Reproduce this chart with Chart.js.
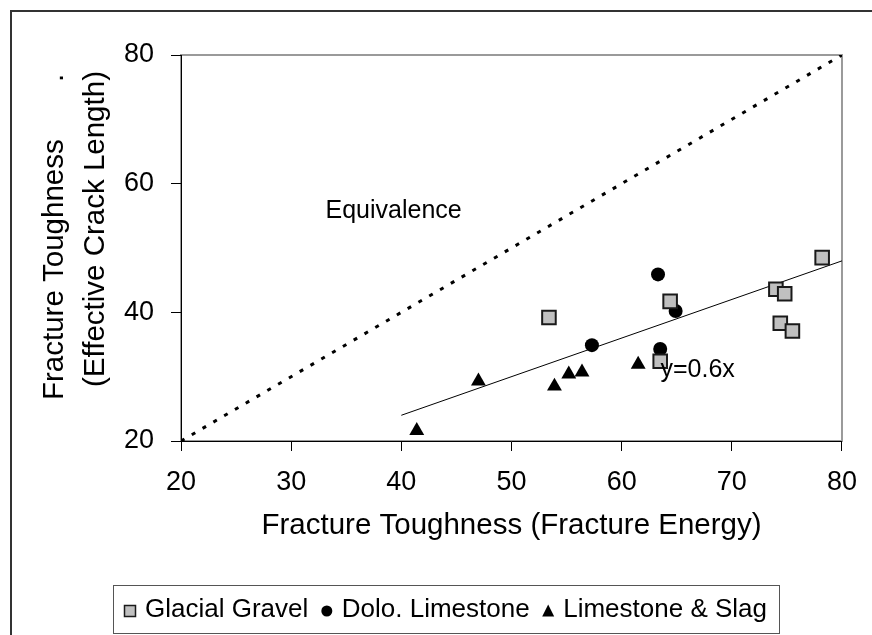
<!DOCTYPE html>
<html>
<head>
<meta charset="utf-8">
<title>Fracture Toughness</title>
<script src="https://cdn.jsdelivr.net/npm/chart.js@4"></script>
<style>
  html, body { margin: 0; padding: 0; background: #fff; }
  #wrap { width: 872px; height: 635px; }
</style>
</head>
<body>
<div id="wrap"><canvas id="chart" width="872" height="635"></canvas></div>
<script>
// measured points, x = fracture energy toughness, y = effective crack length toughness
const gravelX = [53.4, 64.4, 63.5, 74.0, 74.8, 74.4, 75.5, 78.2];
const gravelY = [39.2, 41.7, 32.4, 43.6, 42.9, 38.3, 37.1, 48.5];
const doloX = [63.3, 64.9, 57.3, 63.5];
const doloY = [45.9, 40.2, 34.9, 34.3];
const slagX = [41.4, 47.0, 53.9, 55.2, 56.4, 61.5];
const slagY = [21.6, 29.3, 28.5, 30.4, 30.7, 31.9];

// reference lines
const equivX = [20, 80];
const equivY = [20, 80];
const trendX = [40, 80];
const trendY = [24, 48];   // y = 0.6x

const xTicks = [20, 30, 40, 50, 60, 70, 80];
const yTicks = [20, 40, 60, 80];

const seriesNames = ["Glacial Gravel", "Dolo. Limestone", "Limestone & Slag"];

const FONT = "'Liberation Sans', Arial, sans-serif";

function pts(xs, ys) {
  return xs.map(function (x, i) { return { x: x, y: ys[i] }; });
}

// legend marker shapes, drawn by hand so they sit inside the boxed legend
function drawMarker(ctx, kind, x, y) {
  ctx.save();
  if (kind === "rect") {
    ctx.fillStyle = "#c0c0c0";
    ctx.strokeStyle = "#1a1a1a";
    ctx.lineWidth = 1.5;
    ctx.fillRect(x - 5.5, y - 5.5, 11, 11);
    ctx.strokeRect(x - 5.5, y - 5.5, 11, 11);
  } else if (kind === "circle") {
    ctx.fillStyle = "#000";
    ctx.beginPath();
    ctx.arc(x, y, 5.5, 0, Math.PI * 2);
    ctx.fill();
  } else {
    ctx.fillStyle = "#000";
    ctx.beginPath();
    ctx.moveTo(x, y - 6.5);
    ctx.lineTo(x + 6, y + 5.5);
    ctx.lineTo(x - 6, y + 5.5);
    ctx.closePath();
    ctx.fill();
  }
  ctx.restore();
}

const decorations = {
  id: "decorations",
  beforeDraw(chart) {
    const ctx = chart.ctx;
    const a = chart.chartArea;
    ctx.save();
    ctx.fillStyle = "#fff";
    ctx.fillRect(0, 0, chart.width, chart.height);
    // outer frame (runs off the right and bottom edges)
    ctx.strokeStyle = "#333";
    ctx.lineWidth = 2;
    ctx.strokeRect(11, 11, chart.width + 10, chart.height + 10);
    // plot area frame; left and bottom get covered by the axes
    ctx.strokeStyle = "#9a9a9a";
    ctx.lineWidth = 2;
    ctx.strokeRect(a.left, a.top, a.right - a.left, a.bottom - a.top);
    ctx.restore();
  },
  afterDraw(chart) {
    const ctx = chart.ctx;
    const a = chart.chartArea;
    const sx = chart.scales.x;
    const sy = chart.scales.y;
    ctx.save();
    ctx.fillStyle = "#000";

    // x axis title
    ctx.font = "29.5px " + FONT;
    ctx.textAlign = "center";
    ctx.textBaseline = "middle";
    ctx.fillText("Fracture Toughness (Fracture Energy)", (a.left + a.right) / 2, 526);

    // y axis title, two lines
    ctx.save();
    ctx.translate(63, 400);
    ctx.rotate(-Math.PI / 2);
    ctx.textAlign = "left";
    ctx.textBaseline = "alphabetic";
    ctx.font = "29.5px " + FONT;
    ctx.fillText("Fracture Toughness       .", 0, 0);
    ctx.restore();
    ctx.save();
    ctx.translate(104, 229);
    ctx.rotate(-Math.PI / 2);
    ctx.textAlign = "center";
    ctx.textBaseline = "alphabetic";
    ctx.font = "29.5px " + FONT;
    ctx.fillText("(Effective Crack Length)", 0, 0);
    ctx.restore();

    // in-plot labels
    ctx.font = "25px " + FONT;
    ctx.textAlign = "center";
    ctx.textBaseline = "middle";
    ctx.fillText("Equivalence", sx.getPixelForValue(39.3), sy.getPixelForValue(55.8));
    ctx.fillText("y=0.6x", sx.getPixelForValue(66.9), sy.getPixelForValue(31.0));

    // boxed legend, items spread between a fixed first marker and right margin
    const boxL = 113, boxT = 585, boxR = 779, boxB = 633;
    ctx.strokeStyle = "#555";
    ctx.lineWidth = 1;
    ctx.strokeRect(boxL + 0.5, boxT + 0.5, boxR - boxL, boxB - boxT);
    ctx.font = "26px " + FONT;
    ctx.textAlign = "left";
    const kinds = ["rect", "circle", "triangle"];
    const firstMarker = boxL + 17, textOffset = 15, rightMargin = 12;
    let textSum = 0;
    seriesNames.forEach(function (n) { textSum += ctx.measureText(n).width; });
    const span = (boxR - rightMargin) - firstMarker - textOffset * seriesNames.length - textSum;
    const itemGap = span / (seriesNames.length - 1);
    let m = firstMarker;
    const cy = (boxT + boxB) / 2 + 1;
    seriesNames.forEach(function (n, i) {
      drawMarker(ctx, kinds[i], m, cy + 1);
      ctx.fillText(n, m + textOffset, cy);
      m += textOffset + ctx.measureText(n).width + itemGap;
    });
    ctx.restore();
  }
};

const ctx = document.getElementById("chart").getContext("2d");
new Chart(ctx, {
  type: "scatter",
  data: {
    datasets: [
      {
        label: seriesNames[0],
        data: pts(gravelX, gravelY),
        pointStyle: "rect",
        pointRadius: 9.6,
        backgroundColor: "#c0c0c0",
        borderColor: "#1a1a1a",
        borderWidth: 2
      },
      {
        label: seriesNames[1],
        data: pts(doloX, doloY),
        pointStyle: "circle",
        pointRadius: 7,
        backgroundColor: "#000",
        borderColor: "#000",
        borderWidth: 0
      },
      {
        label: seriesNames[2],
        data: pts(slagX, slagY),
        pointStyle: "triangle",
        pointRadius: 8.6,
        backgroundColor: "#000",
        borderColor: "#000",
        borderWidth: 0
      },
      {
        label: "Equivalence",
        data: pts(equivX, equivY),
        showLine: true,
        pointRadius: 0,
        borderColor: "#000",
        borderWidth: 3,
        borderDash: [4, 8.5]
      },
      {
        label: "y=0.6x",
        data: pts(trendX, trendY),
        showLine: true,
        pointRadius: 0,
        borderColor: "#000",
        borderWidth: 1
      }
    ]
  },
  options: {
    responsive: false,
    animation: false,
    events: [],
    layout: { padding: { top: 55, right: 29, left: 0, bottom: 0 } },
    plugins: {
      legend: { display: false },
      tooltip: { enabled: false }
    },
    scales: {
      x: {
        type: "linear",
        min: 20,
        max: 80,
        afterBuildTicks: function (s) { s.ticks = xTicks.map(function (v) { return { value: v }; }); },
        afterFit: function (s) { s.height = 194; },
        ticks: { color: "#000", padding: 15, font: { size: 27, family: FONT } },
        grid: { display: true, drawOnChartArea: false, drawTicks: true, tickLength: 10, color: "#000", lineWidth: 1 },
        border: { display: true, color: "#000", width: 1 }
      },
      y: {
        type: "linear",
        min: 20,
        max: 80,
        afterBuildTicks: function (s) { s.ticks = yTicks.map(function (v) { return { value: v }; }); },
        afterFit: function (s) { s.width = 181; },
        ticks: { color: "#000", padding: 17, font: { size: 27, family: FONT } },
        grid: { display: true, drawOnChartArea: false, drawTicks: true, tickLength: 10, color: "#000", lineWidth: 1 },
        border: { display: true, color: "#000", width: 1 }
      }
    }
  },
  plugins: [decorations]
});
</script>
</body>
</html>
